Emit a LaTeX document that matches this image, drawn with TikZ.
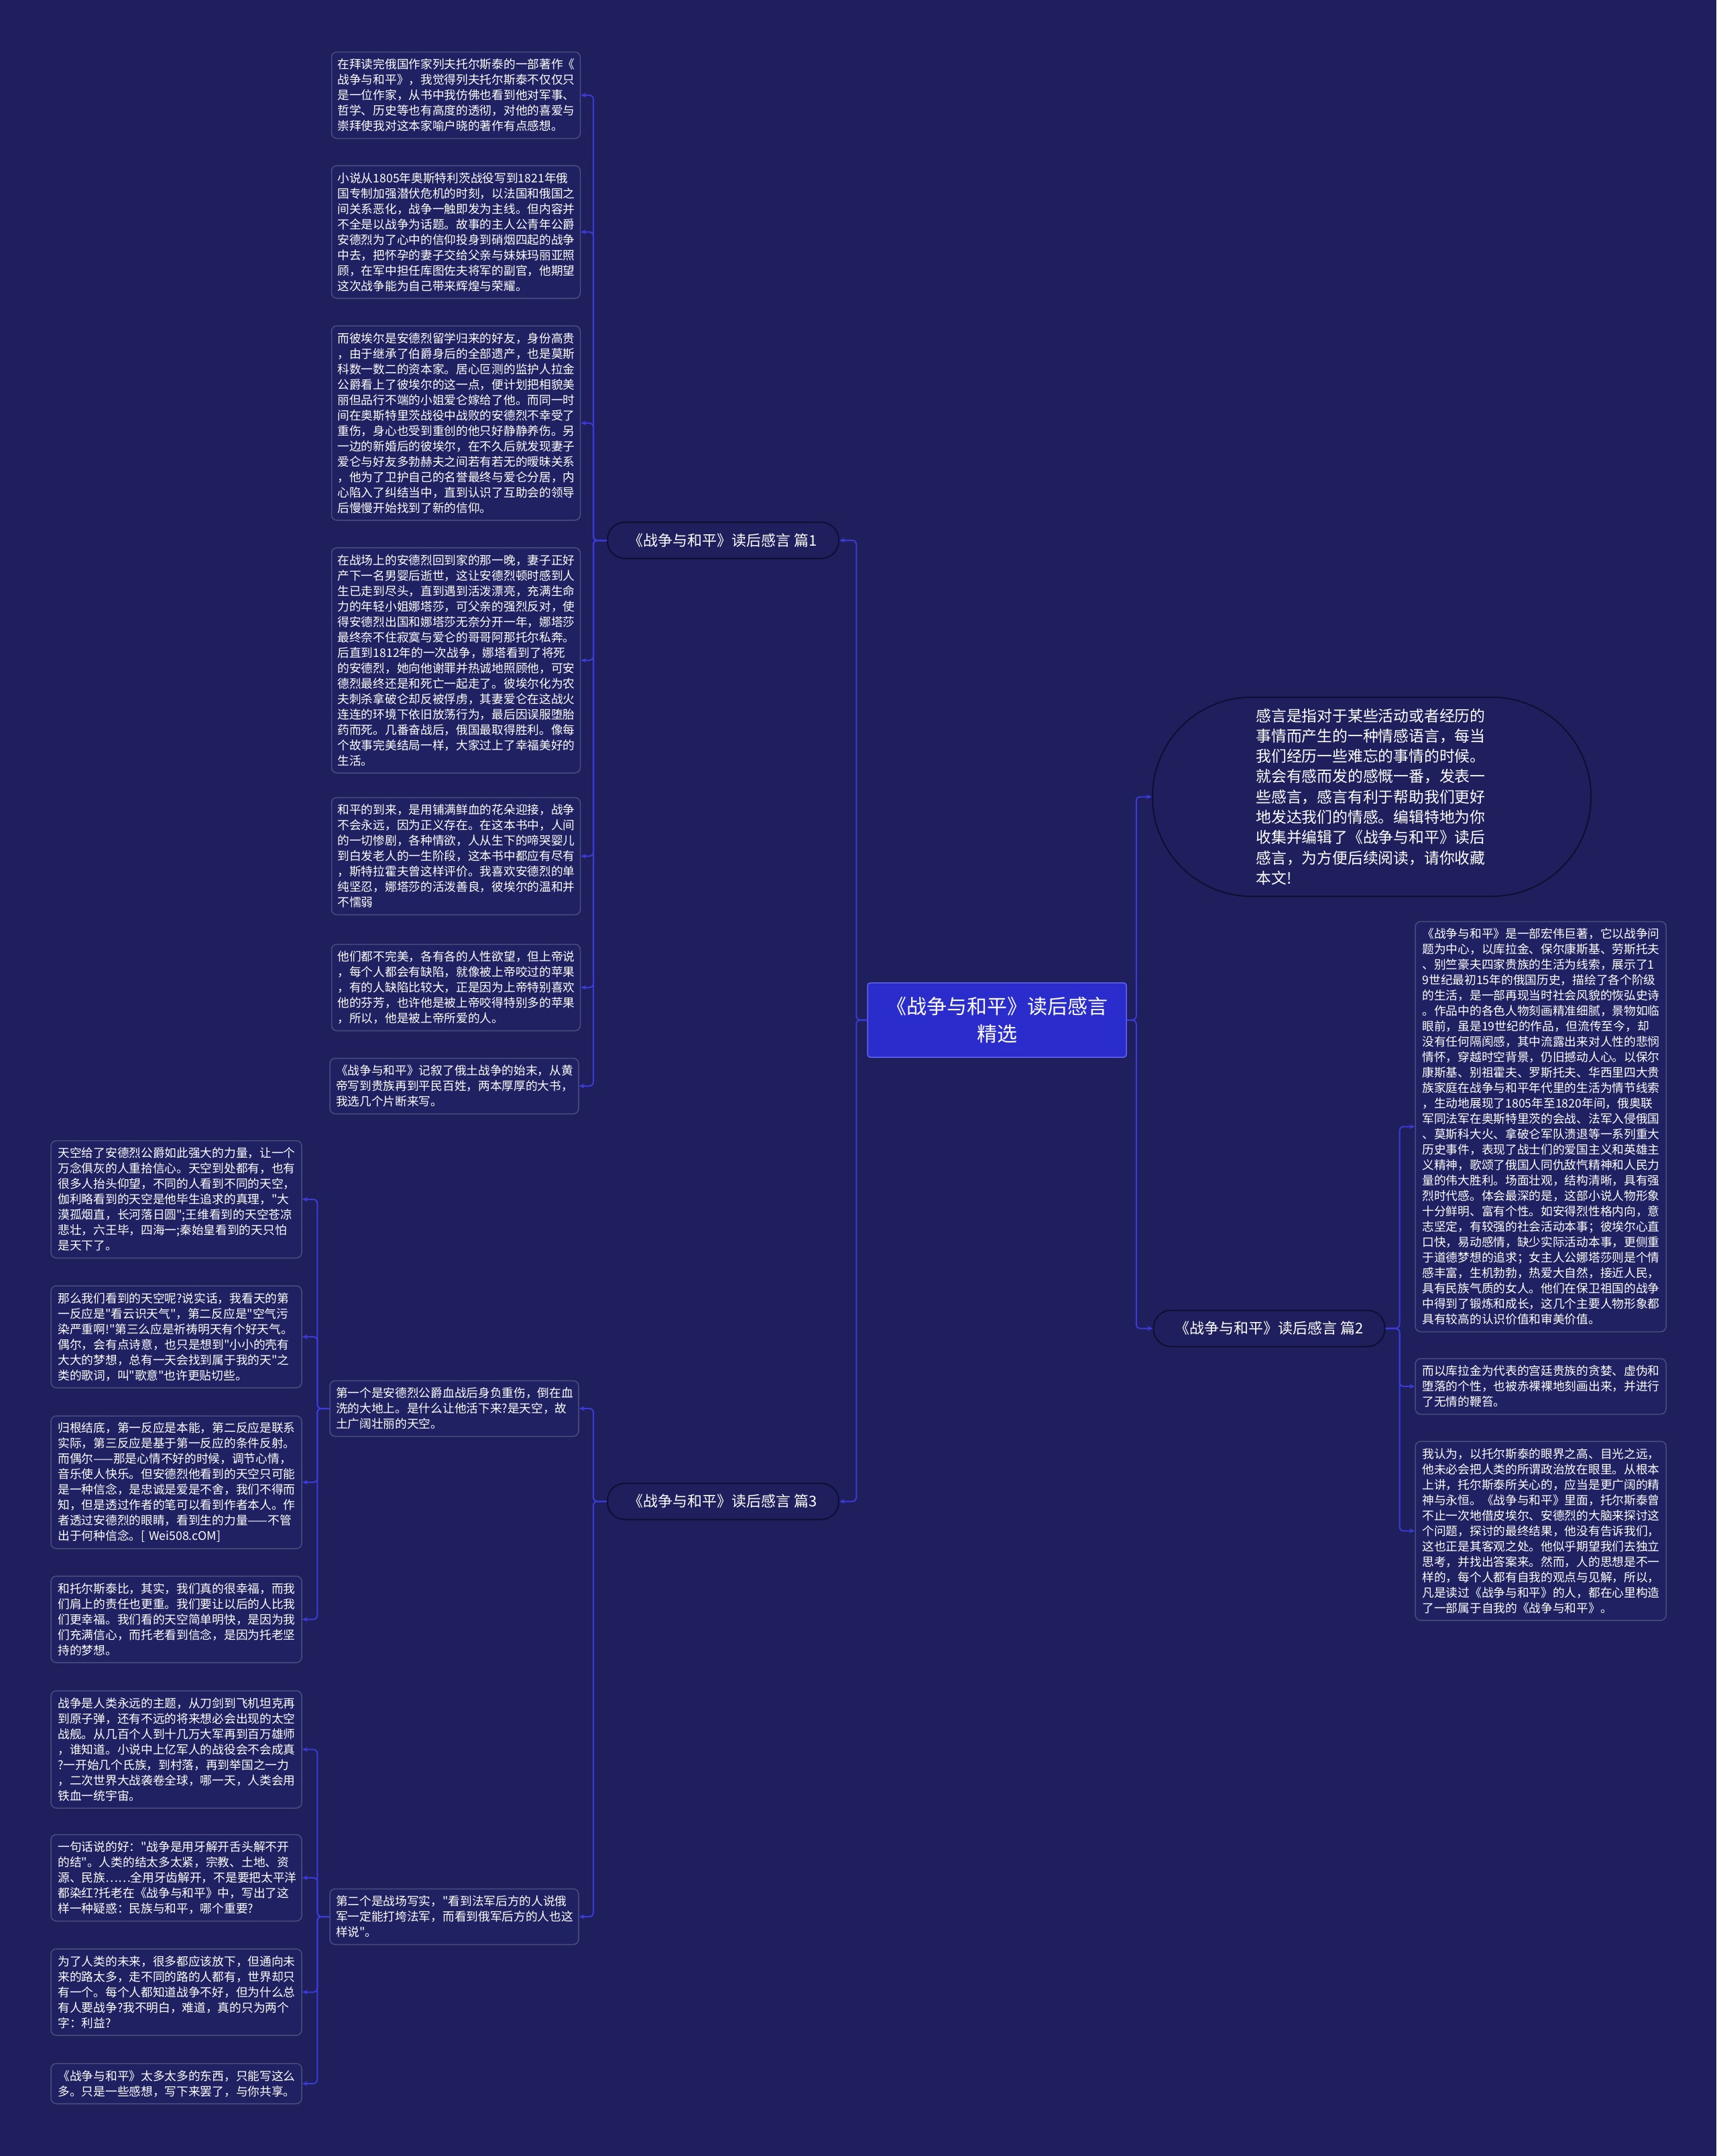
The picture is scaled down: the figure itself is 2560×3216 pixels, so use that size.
\documentclass[tikz,border=0pt]{standalone}
\usepackage{fontspec}
\setmainfont{Noto Sans CJK SC}[Ligatures=TeXOff]
\usetikzlibrary{arrows.meta}
\definecolor{bg}{HTML}{1E1F5C}
\definecolor{boxfill}{HTML}{202163}
\definecolor{boxline}{HTML}{4B4D7E}
\definecolor{pillline}{HTML}{0E0F33}
\definecolor{rootfill}{HTML}{2A2DCB}
\definecolor{rootline}{HTML}{6064F0}
\definecolor{linecol}{HTML}{3B3BD8}
\tikzset{
  txtbox/.style={draw=boxline, line width=1.5pt, fill=boxfill, rounded corners=8pt, text=white,
    align=left, text width=353pt, inner xsep=9pt, inner ysep=3pt,
    font=\fontsize{17.7}{23}\selectfont},
  widebox/.style={inner xsep=10.5pt},
  branch/.style={draw=pillline, line width=2pt, fill=bg, rounded corners=26pt, minimum width=345pt,
    minimum height=54pt, text=white, font=\fontsize{22}{26}\selectfont, inner sep=0pt},
  rootnode/.style={draw=rootline, line width=1.5pt, fill=rootfill, rounded corners=4pt, minimum width=386pt,
    minimum height=111pt, text=white, align=center, font=\fontsize{30}{41}\selectfont},
  introbox/.style={draw=pillline, line width=2pt, fill=bg, rounded corners=148pt, minimum width=654pt,
    minimum height=297pt, text=white, align=left, text width=345pt,
    font=\fontsize{22.8}{30.3}\selectfont},
  conn/.style={draw=linecol, line width=2pt, rounded corners=6pt, -{Stealth[length=8pt,width=7pt]}},
}
\begin{document}
\begin{tikzpicture}[x=1pt,y=-1pt]
\fill[bg] (0,0) rectangle (2560,3216);
\useasboundingbox (0,0) rectangle (2560,3216);

% root and branches
\node[rootnode] (root) at (1487,1521.5) {《战争与和平》读后感言\\精选};
\node[branch] (b1) at (1078.5,806) {《战争与和平》读后感言 篇1};
\node[branch] (b2) at (1893,1981.5) {《战争与和平》读后感言 篇2};
\node[branch] (b3) at (1078.5,2239.5) {《战争与和平》读后感言 篇3};
\node[introbox] (intro) at (2046,1188.5) {感言是指对于某些活动或者经历的\\事情而产生的一种情感语言，每当\\我们经历一些难忘的事情的时候。\\就会有感而发的感慨一番，发表一\\些感言，感言有利于帮助我们更好\\地发达我们的情感。编辑特地为你\\收集并编辑了《战争与和平》读后\\感言，为方便后续阅读，请你收藏\\本文!};

% branch 1 children
\node[txtbox, minimum height=129pt] (l1) at (680,142) {在拜读完俄国作家列夫托尔斯泰的一部著作《\\战争与和平》，我觉得列夫托尔斯泰不仅仅只\\是一位作家，从书中我仿佛也看到他对军事、\\哲学、历史等也有高度的透彻，对他的喜爱与\\崇拜使我对这本家喻户晓的著作有点感想。};
\node[txtbox, minimum height=198pt] (l2) at (680,346) {小说从1805年奥斯特利茨战役写到1821年俄\\国专制加强潜伏危机的时刻，以法国和俄国之\\间关系恶化，战争一触即发为主线。但内容并\\不全是以战争为话题。故事的主人公青年公爵\\安德烈为了心中的信仰投身到硝烟四起的战争\\中去，把怀孕的妻子交给父亲与妹妹玛丽亚照\\顾，在军中担任库图佐夫将军的副官，他期望\\这次战争能为自己带来辉煌与荣耀。};
\node[txtbox, minimum height=290pt] (l3) at (680,631) {而彼埃尔是安德烈留学归来的好友，身份高贵\\，由于继承了伯爵身后的全部遗产，也是莫斯\\科数一数二的资本家。居心叵测的监护人拉金\\公爵看上了彼埃尔的这一点，便计划把相貌美\\丽但品行不端的小姐爱仑嫁给了他。而同一时\\间在奥斯特里茨战役中战败的安德烈不幸受了\\重伤，身心也受到重创的他只好静静养伤。另\\一边的新婚后的彼埃尔，在不久后就发现妻子\\爱仑与好友多勃赫夫之间若有若无的暧昧关系\\，他为了卫护自己的名誉最终与爱仑分居，内\\心陷入了纠结当中，直到认识了互助会的领导\\后慢慢开始找到了新的信仰。};
\node[txtbox, minimum height=336pt] (l4) at (680,985) {在战场上的安德烈回到家的那一晚，妻子正好\\产下一名男婴后逝世，这让安德烈顿时感到人\\生已走到尽头，直到遇到活泼漂亮，充满生命\\力的年轻小姐娜塔莎，可父亲的强烈反对，使\\得安德烈出国和娜塔莎无奈分开一年，娜塔莎\\最终奈不住寂寞与爱仑的哥哥阿那托尔私奔。\\后直到1812年的一次战争，娜塔看到了将死\\的安德烈，她向他谢罪并热诚地照顾他，可安\\德烈最终还是和死亡一起走了。彼埃尔化为农\\夫刺杀拿破仑却反被俘虏，其妻爱仑在这战火\\连连的环境下依旧放荡行为，最后因误服堕胎\\药而死。几番奋战后，俄国最取得胜利。像每\\个故事完美结局一样，大家过上了幸福美好的\\生活。};
\node[txtbox, minimum height=175pt] (l5) at (680,1277) {和平的到来，是用铺满鲜血的花朵迎接，战争\\不会永远，因为正义存在。在这本书中，人间\\的一切惨剧，各种情欲，人从生下的啼哭婴儿\\到白发老人的一生阶段，这本书中都应有尽有\\，斯特拉霍夫曾这样评价。我喜欢安德烈的单\\纯坚忍，娜塔莎的活泼善良，彼埃尔的温和并\\不懦弱};
\node[txtbox, minimum height=129pt] (l6) at (680,1473) {他们都不完美，各有各的人性欲望，但上帝说\\，每个人都会有缺陷，就像被上帝咬过的苹果\\，有的人缺陷比较大，正是因为上帝特别喜欢\\他的芬芳，也许他是被上帝咬得特别多的苹果\\，所以，他是被上帝所爱的人。};
\node[txtbox, minimum height=83pt] (l7) at (677.5,1620) {《战争与和平》记叙了俄土战争的始末，从黄\\帝写到贵族再到平民百姓，两本厚厚的大书，\\我选几个片断来写。};

% branch 3 children
\node[txtbox, minimum height=83pt] (m1) at (677.5,2101) {第一个是安德烈公爵血战后身负重伤，倒在血\\洗的大地上。是什么让他活下来?是天空，故\\土广阔壮丽的天空。};
\node[txtbox, minimum height=83pt] (m2) at (677.5,2859) {第二个是战场写实，"看到法军后方的人说俄\\军一定能打垮法军，而看到俄军后方的人也这\\样说"。};

\node[txtbox, widebox, minimum height=175pt] (f1) at (263,1789) {天空给了安德烈公爵如此强大的力量，让一个\\万念俱灰的人重拾信心。天空到处都有，也有\\很多人抬头仰望，不同的人看到不同的天空，\\伽利略看到的天空是他毕生追求的真理，"大\\漠孤烟直，长河落日圆";王维看到的天空苍凉\\悲壮，六王毕，四海一;秦始皇看到的天只怕\\是天下了。};
\node[txtbox, widebox, minimum height=152pt] (f2) at (263,1994) {那么我们看到的天空呢?说实话，我看天的第\\一反应是"看云识天气"，第二反应是"空气污\\染严重啊!"第三么应是祈祷明天有个好天气。\\偶尔，会有点诗意，也只是想到"小小的壳有\\大大的梦想，总有一天会找到属于我的天"之\\类的歌词，叫"歌意"也许更贴切些。};
\node[txtbox, widebox, minimum height=198pt] (f3) at (263,2211) {归根结底，第一反应是本能，第二反应是联系\\实际，第三反应是基于第一反应的条件反射。\\而偶尔——那是心情不好的时候，调节心情，\\音乐使人快乐。但安德烈他看到的天空只可能\\是一种信念，是忠诚是爱是不舍，我们不得而\\知，但是透过作者的笔可以看到作者本人。作\\者透过安德烈的眼睛，看到生的力量——不管\\出于何种信念。[ Wei508.cOM]};
\node[txtbox, widebox, minimum height=129pt] (f4) at (263,2415.5) {和托尔斯泰比，其实，我们真的很幸福，而我\\们肩上的责任也更重。我们要让以后的人比我\\们更幸福。我们看的天空简单明快，是因为我\\们充满信心，而托老看到信念，是因为托老坚\\持的梦想。};
\node[txtbox, widebox, minimum height=175pt] (f5) at (263,2609.5) {战争是人类永远的主题，从刀剑到飞机坦克再\\到原子弹，还有不远的将来想必会出现的太空\\战舰。从几百个人到十几万大军再到百万雄师\\，谁知道。小说中上亿军人的战役会不会成真\\?一开始几个氏族，到村落，再到举国之一力\\，二次世界大战袭卷全球，哪一天，人类会用\\铁血一统宇宙。};
\node[txtbox, widebox, minimum height=129pt] (f6) at (263,2801) {一句话说的好："战争是用牙解开舌头解不开\\的结"。人类的结太多太紧，宗教、土地、资\\源、民族……全用牙齿解开，不是要把太平洋\\都染红?托老在《战争与和平》中，写出了这\\样一种疑惑：民族与和平，哪个重要?};
\node[txtbox, widebox, minimum height=129pt] (f7) at (263,2971.5) {为了人类的未来，很多都应该放下，但通向未\\来的路太多，走不同的路的人都有，世界却只\\有一个。每个人都知道战争不好，但为什么总\\有人要战争?我不明白，难道，真的只为两个\\字：利益?};
\node[txtbox, widebox, minimum height=60pt] (f8) at (263,3108) {《战争与和平》太多太多的东西，只能写这么\\多。只是一些感想，写下来罢了，与你共享。};

% branch 2 children
\node[txtbox, widebox, minimum height=612pt] (r1) at (2298,1680.5) {《战争与和平》是一部宏伟巨著，它以战争问\\题为中心，以库拉金、保尔康斯基、劳斯托夫\\、别竺豪夫四家贵族的生活为线索，展示了1\\9世纪最初15年的俄国历史，描绘了各个阶级\\的生活，是一部再现当时社会风貌的恢弘史诗\\。作品中的各色人物刻画精准细腻，景物如临\\眼前，虽是19世纪的作品，但流传至今，却\\没有任何隔阂感，其中流露出来对人性的悲悯\\情怀，穿越时空背景，仍旧撼动人心。以保尔\\康斯基、别祖霍夫、罗斯托夫、华西里四大贵\\族家庭在战争与和平年代里的生活为情节线索\\，生动地展现了1805年至1820年间，俄奥联\\军同法军在奥斯特里茨的会战、法军入侵俄国\\、莫斯科大火、拿破仑军队溃退等一系列重大\\历史事件，表现了战士们的爱国主义和英雄主\\义精神，歌颂了俄国人同仇敌忾精神和人民力\\量的伟大胜利。场面壮观，结构清晰，具有强\\烈时代感。体会最深的是，这部小说人物形象\\十分鲜明、富有个性。如安得烈性格内向，意\\志坚定，有较强的社会活动本事；彼埃尔心直\\口快，易动感情，缺少实际活动本事，更侧重\\于道德梦想的追求；女主人公娜塔莎则是个情\\感丰富，生机勃勃，热爱大自然，接近人民，\\具有民族气质的女人。他们在保卫祖国的战争\\中得到了锻炼和成长，这几个主要人物形象都\\具有较高的认识价值和审美价值。};
\node[txtbox, widebox, minimum height=83pt] (r2) at (2298,2068) {而以库拉金为代表的宫廷贵族的贪婪、虚伪和\\堕落的个性，也被赤裸裸地刻画出来，并进行\\了无情的鞭笞。};
\node[txtbox, widebox, minimum height=267pt] (r3) at (2298,2283.5) {我认为，以托尔斯泰的眼界之高、目光之远，\\他未必会把人类的所谓政治放在眼里。从根本\\上讲，托尔斯泰所关心的，应当是更广阔的精\\神与永恒。《战争与和平》里面，托尔斯泰曾\\不止一次地借皮埃尔、安德烈的大脑来探讨这\\个问题，探讨的最终结果，他没有告诉我们，\\这也正是其客观之处。他似乎期望我们去独立\\思考，并找出答案来。然而，人的思想是不一\\样的，每个人都有自我的观点与见解，所以，\\凡是读过《战争与和平》的人，都在心里构造\\了一部属于自我的《战争与和平》。};

% connectors
\draw[conn] (root.west) -- ++(-16,0) |- (b1.east);
\draw[conn] (root.west) -- ++(-16,0) |- (b3.east);
\draw[conn] (root.east) -- ++(14,0) |- (intro.west);
\draw[conn] (root.east) -- ++(14,0) |- (b2.west);
\foreach \c in {l1,l2,l3,l4,l5,l6,l7}{\draw[conn] (b1.west) -- ++(-20,0) |- (\c.east);}
\foreach \c in {m1,m2}{\draw[conn] (b3.west) -- ++(-20,0) |- (\c.east);}
\foreach \c in {f1,f2,f3,f4}{\draw[conn] (m1.west) -- ++(-18,0) |- (\c.east);}
\foreach \c in {f5,f6,f7,f8}{\draw[conn] (m2.west) -- ++(-18,0) |- (\c.east);}
\foreach \c in {r1,r2,r3}{\draw[conn] (b2.east) -- ++(21,0) |- (\c.west);}
\end{tikzpicture}
\end{document}
